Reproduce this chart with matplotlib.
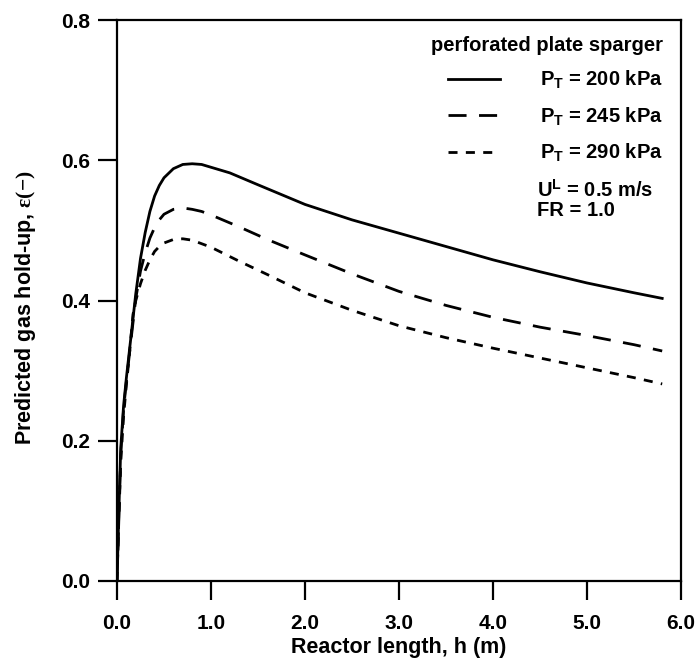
import matplotlib
matplotlib.use("Agg")
import matplotlib.pyplot as plt

plt.rcParams["font.family"] = ["Liberation Sans", "DejaVu Sans"]
plt.rcParams["font.weight"] = "bold"
plt.rcParams["mathtext.fontset"] = "custom"
plt.rcParams["mathtext.rm"] = "Liberation Serif"
plt.rcParams["mathtext.bf"] = "Liberation Sans:bold"
plt.rcParams["mathtext.it"] = "Liberation Sans:bold"
plt.rcParams["lines.scale_dashes"] = False

# predicted gas hold-up vs reactor length, three total pressures
h_200 = [0, 0.02, 0.04, 0.07, 0.1, 0.15, 0.2, 0.25, 0.3, 0.35, 0.4, 0.45, 0.5, 0.6,
         0.7, 0.8, 0.9, 1.0, 1.2, 1.5, 2.0, 2.5, 3.0, 3.5, 4.0, 4.5, 5.0, 5.5, 5.8]
eps_200 = [0, 0.10, 0.19, 0.25, 0.29, 0.35, 0.41, 0.46, 0.497, 0.527, 0.549, 0.564,
           0.575, 0.588, 0.594, 0.595, 0.594, 0.590, 0.582, 0.565, 0.537, 0.515,
           0.496, 0.477, 0.458, 0.441, 0.425, 0.411, 0.403]

h_245 = [0, 0.02, 0.04, 0.07, 0.1, 0.15, 0.2, 0.25, 0.3, 0.35, 0.4, 0.45, 0.5, 0.6,
         0.7, 0.8, 0.9, 1.0, 1.3, 1.6, 2.0, 2.5, 3.0, 3.5, 4.0, 4.5, 5.0, 5.5, 5.8]
eps_245 = [0, 0.09, 0.18, 0.245, 0.285, 0.345, 0.403, 0.442, 0.468, 0.489, 0.504,
           0.515, 0.523, 0.530, 0.532, 0.530, 0.527, 0.522, 0.505, 0.487, 0.465,
           0.438, 0.413, 0.393, 0.376, 0.362, 0.350, 0.337, 0.328]

h_290 = [0, 0.02, 0.04, 0.07, 0.1, 0.13, 0.17, 0.2, 0.25, 0.3, 0.35, 0.4, 0.45, 0.5,
         0.6, 0.7, 0.8, 0.9, 1.0, 1.3, 1.6, 2.0, 2.5, 3.0, 3.5, 4.0, 4.5, 5.0, 5.5, 5.8]
eps_290 = [0, 0.09, 0.17, 0.235, 0.28, 0.32, 0.38, 0.40, 0.424, 0.443, 0.458, 0.470,
           0.477, 0.482, 0.487, 0.488, 0.486, 0.481, 0.476, 0.456, 0.437, 0.411,
           0.386, 0.364, 0.347, 0.332, 0.318, 0.304, 0.290, 0.281]

labels = [r"$\mathbf{P_T}$ = 200 kPa", r"$\mathbf{P_T}$ = 245 kPa", r"$\mathbf{P_T}$ = 290 kPa"]
xticks = [0, 1, 2, 3, 4, 5, 6]
yticks = [0, 0.2, 0.4, 0.6, 0.8]

fig = plt.figure(figsize=(6.96, 6.58), dpi=100)
ax = fig.add_axes([117 / 696, 77 / 658, 564 / 696, 561 / 658])

ax.plot(h_200, eps_200, color="black", lw=2, label=labels[0])
ax.plot(h_245, eps_245, color="black", lw=2, linestyle=(0, (13, 9)), label=labels[1])
ax.plot(h_290, eps_290, color="black", lw=2, linestyle=(0, (6.5, 6)), label=labels[2])

ax.set_xlim(0, 6)
ax.set_ylim(0, 0.8)
ax.set_xticks(xticks)
ax.set_xticklabels([f"{t:.1f}" for t in xticks])
ax.set_yticks(yticks)
ax.set_yticklabels([f"{t:.1f}" for t in yticks])
ax.tick_params(axis="x", direction="out", length=14, width=1.6, pad=10, labelsize=15)
ax.tick_params(axis="y", direction="out", length=14, width=1.6, pad=5, labelsize=15)
for s in ax.spines.values():
    s.set_linewidth(1.6)

ax.set_xlabel("Reactor length, h (m)", fontsize=15.5, fontweight="bold")
ax.xaxis.set_label_coords(0.5, -0.1)
ax.set_ylabel(r"Predicted gas hold-up, $\mathrm{\varepsilon(-)}$", fontsize=15.5,
              fontweight="bold")
ax.yaxis.set_label_coords(-0.14, 0.488)

leg = ax.legend(loc="upper right", bbox_to_anchor=(0.99, 0.993), frameon=False,
                title="perforated plate sparger", handlelength=2.6, handletextpad=2.0,
                labelspacing=0.7, borderaxespad=0.2,
                prop={"size": 14.5, "weight": "bold"},
                title_fontproperties={"size": 14.5, "weight": "bold"})
leg._legend_box.align = "right"

ax.text(0.745, 0.684, r"$\mathbf{U^L}$ = 0.5 m/s", transform=ax.transAxes,
        fontsize=14.5, fontweight="bold", va="baseline")
ax.text(0.745, 0.651, "FR = 1.0", transform=ax.transAxes,
        fontsize=14.5, fontweight="bold", va="baseline")

fig.savefig("out.png", dpi=100)
